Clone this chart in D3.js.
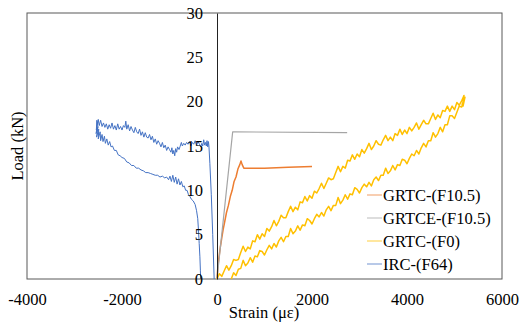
<!DOCTYPE html>
<html>
<head>
<meta charset="utf-8">
<script src="https://cdn.jsdelivr.net/npm/d3@7"></script>
<style>
  body { margin: 0; background: #fff; }
  svg text { font-family: "Liberation Serif", "Tinos", "Times New Roman", "DejaVu Serif", serif; }
</style>
</head>
<body>
<svg id="chart" width="520" height="325"></svg>
<script>
// Tick labels
const xTicks = [-4000, -2000, 0, 2000, 4000, 6000];
const yTicks = [0, 5, 10, 15, 20, 25, 30];

// Series names (legend order)
const seriesNames = ['GRTC-(F10.5)', 'GRTCE-(F10.5)', 'GRTC-(F0)', 'IRC-(F64)'];

// [strain, load] pairs
const grtcF105 = [[0,0],[20,1.5],[40,2.4],[70,3.6],[100,4.6],[130,5.6],[160,6.4],[200,7.5],[240,8.3],[280,9.3],[320,10.0],[360,11.0],[400,11.5],[440,12.4],[480,12.9],[505,13.3],[530,12.9],[565,12.5],[700,12.5],[1000,12.5],[1500,12.6],[2000,12.7]];

const grtceF105 = [[0,0],[330,16.6],[2740,16.5]];

const grtcF0 = [[0,0],[50,0.6],[100,0.3],[150,0.9],[200,1.5],[250,1.0],[300,1.5],[350,2.2],[400,2.1],[450,2.2],[500,3.0],[550,3.7],[600,3.1],[650,3.6],[700,3.4],[750,4.3],[800,4.2],[850,5.0],[900,4.5],[950,5.1],[1000,4.8],[1050,5.7],[1100,5.4],[1150,5.9],[1200,6.6],[1250,6.0],[1300,6.5],[1350,7.2],[1400,6.9],[1450,6.9],[1500,7.6],[1550,8.2],[1600,7.6],[1650,8.1],[1700,7.8],[1750,8.7],[1800,8.6],[1850,9.3],[1900,8.8],[1950,9.4],[2000,9.1],[2050,9.9],[2100,9.7],[2150,10.2],[2200,10.8],[2250,10.2],[2300,10.8],[2350,11.4],[2400,11.2],[2450,11.3],[2500,12.0],[2550,12.7],[2600,12.1],[2650,12.7],[2700,12.5],[2750,13.4],[2800,13.3],[2850,14.0],[2900,13.5],[2950,14.1],[3000,13.8],[3050,14.6],[3100,14.2],[3150,14.7],[3200,15.3],[3250,14.6],[3300,15.0],[3350,15.6],[3400,15.2],[3450,15.1],[3500,15.7],[3550,16.2],[3600,15.6],[3650,16.0],[3700,15.6],[3750,16.4],[3800,16.2],[3850,16.9],[3900,16.3],[3950,16.8],[4000,16.4],[4050,17.1],[4100,16.7],[4150,17.1],[4200,17.6],[4250,16.9],[4300,17.4],[4350,17.9],[4400,17.5],[4450,17.5],[4500,18.1],[4550,18.7],[4600,18.0],[4650,18.5],[4700,18.2],[4750,19.0],[4800,18.9],[4850,19.5],[4900,18.9],[4950,19.5],[5000,19.1],[5050,19.9],[5100,19.6],[5150,20.1],[5200,20.7],
  [5170,19.6],[5220,20.5],[5180,19.5],[5210,20.3],[5160,19.7],[5190,20.0],
  [5150,19.4],[5100,19.5],[5050,18.8],[5000,18.1],[4950,18.4],[4900,18.4],[4850,17.4],[4800,17.4],[4750,16.6],[4700,17.1],[4650,16.4],[4600,16.0],[4550,16.5],[4500,15.6],[4450,15.6],[4400,14.9],[4350,15.3],[4300,14.8],[4250,14.1],[4200,14.5],[4150,13.9],[4100,14.1],[4050,13.6],[4000,13.0],[3950,13.4],[3900,13.5],[3850,12.8],[3800,12.9],[3750,12.3],[3700,12.8],[3650,12.2],[3600,11.9],[3550,12.5],[3500,11.7],[3450,11.7],[3400,11.1],[3350,11.5],[3300,11.2],[3250,10.5],[3200,10.9],[3150,10.4],[3100,10.7],[3050,10.3],[3000,9.7],[2950,10.1],[2900,10.3],[2850,9.5],[2800,9.6],[2750,9.0],[2700,9.5],[2650,8.9],[2600,8.5],[2550,9.2],[2500,8.3],[2450,8.3],[2400,7.7],[2350,8.2],[2300,7.8],[2250,7.1],[2200,7.5],[2150,7.0],[2100,7.3],[2050,6.8],[2000,6.2],[1950,6.6],[1900,6.8],[1850,6.0],[1800,6.1],[1750,5.5],[1700,6.0],[1650,5.4],[1600,5.1],[1550,5.7],[1500,4.8],[1450,4.8],[1400,4.2],[1350,4.7],[1300,4.3],[1250,3.6],[1200,4.0],[1150,3.4],[1100,3.8],[1050,3.3],[1000,2.7],[950,3.1],[900,3.2],[850,2.5],[800,2.6],[750,1.9],[700,2.4],[650,1.8],[600,1.5],[550,2.1],[500,1.2],[450,1.1],[400,0.4],[350,0.7],[300,0]];

const ircF64 = [[-60,0],[-90,5],[-120,9.5],[-150,13],[-170,15.0],[-180,15.5],[-195,14.9],[-210,15.6],[-225,15.0],[-240,15.4],[-260,15.1],[-280,15.7],[-300,15.0],[-320,15.3],[-345,14.9],[-370,15.2],[-400,15.5],[-430,15.1],[-460,15.6],[-490,15.2],[-520,15.4],[-550,15.0],[-580,15.5],[-610,15.2],[-640,15.4],[-670,15.1],[-700,15.3],[-730,15.0],[-750,15.4],[-780,14.9],[-800,14.6],[-830,14.9],[-850,14.3],[-870,14.7],[-890,13.9],[-910,14.5],[-930,14.1],[-950,14.8],[-970,14.3],[-1000,14.6],[-1030,14.9],[-1060,14.5],[-1090,15.1],[-1120,14.8],[-1150,15.4],[-1180,14.9],[-1210,15.3],[-1240,15.6],[-1270,15.2],[-1300,15.8],[-1330,15.4],[-1360,16.1],[-1390,15.7],[-1420,16.3],[-1450,15.9],[-1480,16.0],[-1510,16.5],[-1540,16.0],[-1570,16.6],[-1600,16.2],[-1630,16.9],[-1660,16.4],[-1690,16.6],[-1720,17.1],[-1750,16.5],[-1780,16.8],[-1810,17.2],[-1840,16.7],[-1870,17.4],[-1900,16.9],[-1920,17.8],[-1940,17.1],[-1970,17.3],[-2000,16.8],[-2030,17.2],[-2060,16.9],[-2090,17.5],[-2120,16.8],[-2150,17.3],[-2180,16.9],[-2210,17.6],[-2240,17.0],[-2270,17.4],[-2300,16.9],[-2330,17.5],[-2360,17.1],[-2390,17.6],[-2420,17.2],[-2450,17.9],[-2480,17.3],[-2500,18.0],[-2520,17.5],[-2530,17.9],
  [-2540,16.8],[-2515,17.6],[-2545,16.4],[-2505,17.2],[-2535,16.0],[-2490,16.9],[-2500,15.8],[-2460,16.6],[-2450,15.6],[-2420,16.3],[-2400,15.5],[-2370,16.1],[-2350,15.3],[-2320,15.8],[-2290,15.1],[-2260,15.5],[-2230,14.9],[-2200,15.0],[-2160,14.5],[-2120,14.5],[-2080,14.0],[-2040,13.9],[-2000,13.7],[-1950,13.6],[-1900,13.2],[-1850,13.1],[-1800,12.8],[-1750,12.8],[-1700,12.5],[-1650,12.5],[-1600,12.3],[-1550,12.2],[-1500,12.0],[-1450,12.0],[-1400,11.9],[-1350,11.8],[-1300,11.7],[-1250,11.7],[-1200,11.5],[-1150,11.6],[-1100,11.4],[-1060,11.5],[-1020,11.2],[-990,11.6],[-960,11.0],[-930,11.7],[-900,10.9],[-870,11.5],[-840,10.7],[-810,11.3],[-780,10.6],[-750,11.0],[-720,10.4],[-690,10.5],[-660,10.0],[-630,10.0],[-600,9.5],[-570,9.3],[-540,9.0],[-500,8.8],[-460,8.4],[-430,7.7],[-405,6.8],[-390,5.5],[-375,4.0],[-360,2.5],[-350,1.0],[-345,0]];

const series = [
  { name: seriesNames[0], data: grtcF105, color: '#ed7d31', width: 1.5 },
  { name: seriesNames[1], data: grtceF105, color: '#a5a5a5', width: 1.2 },
  { name: seriesNames[2], data: grtcF0, color: '#ffc000', width: 1.5 },
  { name: seriesNames[3], data: ircF64, color: '#4472c4', width: 1 }
];

const svg = d3.select('#chart');
const x = d3.scaleLinear().domain([-4000, 6000]).range([27, 502]);
const y = d3.scaleLinear().domain([0, 30]).range([279, 13]);

// plot frame
svg.append('rect')
  .attr('x', x(-4000)).attr('y', y(30))
  .attr('width', x(6000) - x(-4000)).attr('height', y(0) - y(30))
  .attr('fill', 'none').attr('stroke', '#595959').attr('stroke-width', 1);

// lines
const line = d3.line().x(d => x(d[0])).y(d => y(d[1]));
svg.selectAll('path.series')
  .data(series)
  .enter()
  .append('path')
  .attr('class', 'series')
  .attr('d', d => line(d.data))
  .attr('fill', 'none')
  .attr('stroke', d => d.color)
  .attr('stroke-width', d => d.width)
  .attr('stroke-linejoin', 'round');

// Y axis sits at strain = 0
const yAxis = svg.append('g')
  .attr('transform', `translate(${x(0)},0)`)
  .call(d3.axisLeft(y).tickValues(yTicks).tickSize(0).tickPadding(14).tickFormat(d => String(d)));
yAxis.attr('font-family', null);
yAxis.select('.domain').attr('stroke', '#222');
yAxis.selectAll('text').attr('font-size', 16.5).attr('fill', '#000');

// X axis labels (bottom edge of the frame is the axis line)
const xAxis = svg.append('g')
  .attr('transform', `translate(0,${y(0)})`)
  .call(d3.axisBottom(x).tickValues(xTicks).tickSize(0).tickPadding(14).tickFormat(d => String(d)));
xAxis.attr('font-family', null);
xAxis.select('.domain').remove();
xAxis.selectAll('text').attr('font-size', 16.5).attr('fill', '#000');

// axis titles
svg.append('text')
  .attr('x', 264).attr('y', 318)
  .attr('text-anchor', 'middle')
  .attr('font-size', 16.5)
  .text('Strain (με)');

svg.append('text')
  .attr('transform', 'translate(23,146) rotate(-90)')
  .attr('text-anchor', 'middle')
  .attr('font-size', 16.5)
  .text('Load (kN)');

// legend
const legend = svg.selectAll('g.legend')
  .data(series)
  .enter()
  .append('g')
  .attr('class', 'legend')
  .attr('transform', (d, i) => `translate(367,${195 + i * 23})`);
legend.append('line')
  .attr('x1', 0).attr('x2', 15)
  .attr('stroke', d => d.color)
  .attr('stroke-opacity', 0.5)
  .attr('stroke-width', 1.5);
legend.append('text')
  .attr('x', 16).attr('dy', '0.35em')
  .attr('font-size', 16.5)
  .text(d => d.name);
</script>
</body>
</html>
